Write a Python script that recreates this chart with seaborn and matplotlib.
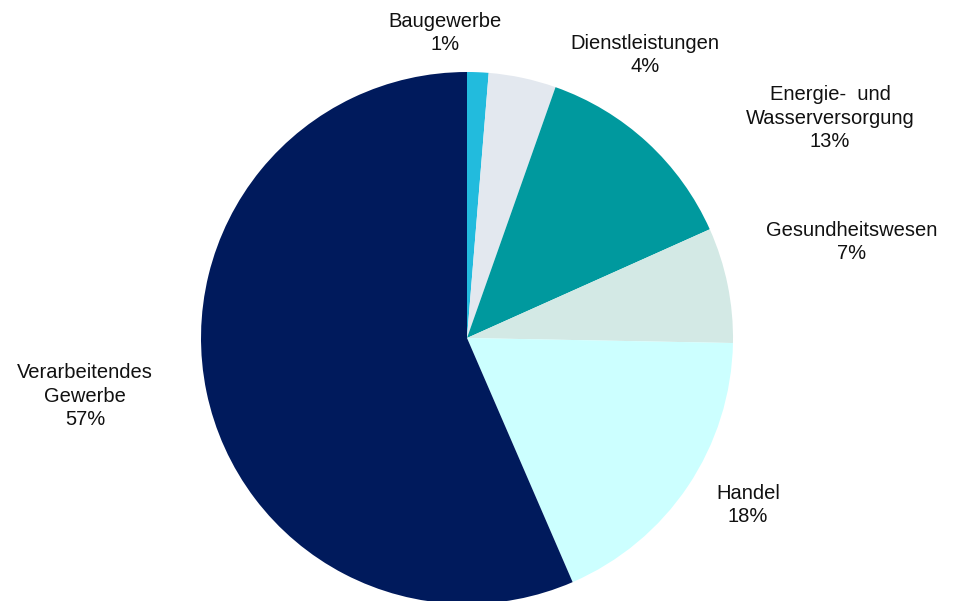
import matplotlib
matplotlib.use("Agg")
import matplotlib.pyplot as plt
import seaborn as sns

# sectors, clockwise from 12 o'clock
sectors = ["Baugewerbe", "Dienstleistungen", "Energie-  und\nWasserversorgung",
           "Gesundheitswesen", "Handel", "Verarbeitendes\nGewerbe"]
shares = [1.3, 4.1, 12.9, 7.0, 18.2, 56.5]
pct_labels = ["1%", "4%", "13%", "7%", "18%", "57%"]
colors = ["#22bbdd", "#e3e8ef", "#00999e", "#d3e9e5", "#ccffff", "#001a5c"]

# label centres in pixel coords (x, y from top)
label_pos = [(445, 33), (645, 55), (830, 118), (852, 242), (748, 505), (85, 396)]

sns.set_theme(style="white")
plt.rcParams["font.family"] = ["Liberation Sans", "DejaVu Sans"]

W, H = 956, 601
fig = plt.figure(figsize=(W / 100, H / 100), dpi=100)
ax = fig.add_axes([0, 0, 1, 1])

ax.pie(shares, colors=colors, startangle=90, counterclock=False,
       center=(467, H - 338), radius=266, frame=True,
       wedgeprops=dict(linewidth=0))
ax.set_xlim(0, W)
ax.set_ylim(0, H)
ax.set_aspect("equal")
ax.axis("off")

for name, pct, (x, y) in zip(sectors, pct_labels, label_pos):
    ax.text(x, H - y, name + "\n" + pct, ha="center", va="center",
            fontsize=14.5, color="#111111", linespacing=1.27)

fig.savefig("out.png", dpi=100)
